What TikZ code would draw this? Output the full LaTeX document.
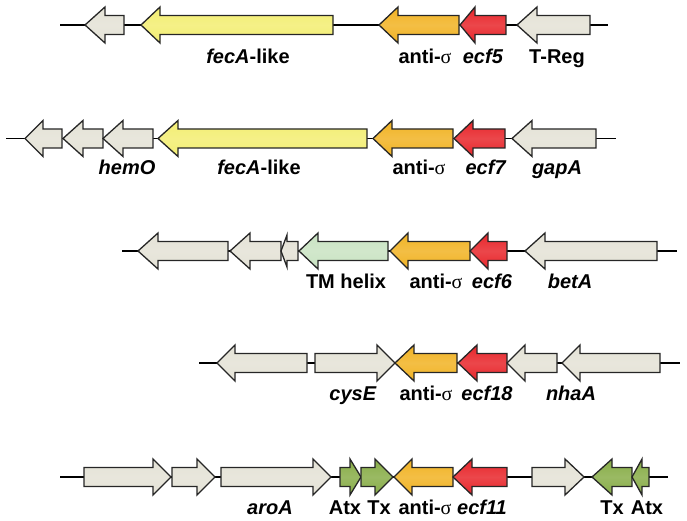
\documentclass[tikz,border=0pt]{standalone}
\usepackage{fontspec}
\setmainfont{Liberation Sans}
\newfontfamily\sigfont{Liberation Serif}
\definecolor{cgray}{HTML}{E4E2D6}
\definecolor{cyel}{HTML}{F3EE72}
\definecolor{corg}{HTML}{F1B324}
\definecolor{cred}{HTML}{E8262B}
\definecolor{cltg}{HTML}{C9E3C2}
\definecolor{cgrn}{HTML}{88AD48}
\tikzset{
  genebox/.style={draw=black!85, line width=1.3pt, line join=miter},
  backbone/.style={draw=black, line width=1.3pt},
  lbl/.style={font=\fontsize{20}{22}\selectfont\bfseries, anchor=base, inner sep=0pt}
}
% #1 head half-height, #2 tip x, #3 head base x, #4 tail x, #5 centre y, #6 colour
\newcommand\gene[6][18]{%
  \path[genebox, top color=#6, bottom color=#6, middle color=#6!85!white]
    (#4,{#5-9.5}) -- (#3,{#5-9.5}) -- (#3,{#5-#1}) -- (#2,#5) -- (#3,{#5+#1})
    -- (#3,{#5+9.5}) -- (#4,{#5+9.5}) -- cycle;}
\newcommand\sig{{\sigfont\mdseries σ}}
\begin{document}
\begin{tikzpicture}[x=1pt,y=-1pt]
\useasboundingbox (0,0) rectangle (687,521);
% ---------- row 1
\coordinate (r1a) at (60,25); \coordinate (r1b) at (608,25);
\draw[backbone] (r1a) -- (r1b);
\gene{85}{105}{124}{25}{cgray}
\gene{141}{160}{333}{25}{cyel}
\gene{379}{398}{459}{25}{corg}
\gene{460}{475}{506}{25}{cred}
\gene{517}{537}{590}{25}{cgray}
\node[lbl] (l1a) at (248,64) {\textit{fecA}-like};
\node[lbl] (l1b) at (425,64) {anti-\sig};
\node[lbl] (l1c) at (483,64) {\textit{ecf5}};
\node[lbl] (l1d) at (557,64) {T-Reg};
% ---------- row 2
\coordinate (r2a) at (6,138.5); \coordinate (r2b) at (616,138.5);
\draw[backbone] (r2a) -- (r2b);
\gene{25}{43}{62}{138.5}{cgray}
\gene{63}{83}{103}{138.5}{cgray}
\gene{103}{123}{153}{138.5}{cgray}
\gene{158}{178}{367}{138.5}{cyel}
\gene{373}{392}{453}{138.5}{corg}
\gene{454}{473}{505}{138.5}{cred}
\gene{512}{532}{596}{138.5}{cgray}
\node[lbl] (l2a) at (127,175) {\textit{hemO}};
\node[lbl] (l2b) at (259,175) {\textit{fecA}-like};
\node[lbl] (l2c) at (419,175) {anti-\sig};
\node[lbl] (l2d) at (486,175) {\textit{ecf7}};
\node[lbl] (l2e) at (557,175) {\textit{gapA}};
% ---------- row 3
\coordinate (r3a) at (122,251); \coordinate (r3b) at (677,251);
\draw[backbone] (r3a) -- (r3b);
\gene{138}{158}{228}{251}{cgray}
\gene{230}{250}{281}{251}{cgray}
\gene[16]{281}{287}{298}{251}{cgray}
\gene{299}{318}{388}{251}{cltg}
\gene{390}{408}{470}{251}{corg}
\gene{470}{488}{507}{251}{cred}
\gene{525}{545}{657}{251}{cgray}
\node[lbl] (l3a) at (346,288) {TM helix};
\node[lbl] (l3b) at (436,288) {anti-\sig};
\node[lbl] (l3c) at (492,288) {\textit{ecf6}};
\node[lbl] (l3d) at (570,288) {\textit{betA}};
% ---------- row 4
\coordinate (r4a) at (199,363); \coordinate (r4b) at (680,363);
\draw[backbone] (r4a) -- (r4b);
\gene{217}{235}{307}{363}{cgray}
\gene{395}{377}{315}{363}{cgray}
\gene{395}{414}{457}{363}{corg}
\gene{458}{477}{507}{363}{cred}
\gene{507}{525}{557}{363}{cgray}
\gene{562}{580}{660}{363}{cgray}
\node[lbl] (l4a) at (353,400) {\textit{cysE}};
\node[lbl] (l4b) at (426,400) {anti-\sig};
\node[lbl] (l4c) at (487,400) {\textit{ecf18}};
\node[lbl] (l4d) at (571,400) {\textit{nhaA}};
% ---------- row 5
\coordinate (r5a) at (60,477); \coordinate (r5b) at (668,477);
\draw[backbone] (r5a) -- (r5b);
\gene{171}{153}{84}{477}{cgray}
\gene{215}{197}{172}{477}{cgray}
\gene{331}{313}{221}{477}{cgray}
\gene{361}{350}{340}{477}{cgrn}
\gene{393}{375}{361}{477}{cgrn}
\gene{394}{412}{453}{477}{corg}
\gene{453}{472}{507}{477}{cred}
\gene{584}{565}{532}{477}{cgray}
\gene{592}{612}{632}{477}{cgrn}
\gene{632}{642}{649}{477}{cgrn}
\node[lbl] (l5a) at (270,514) {\textit{aroA}};
\node[lbl] (l5b) at (345,514) {Atx};
\node[lbl] (l5c) at (379,514) {Tx};
\node[lbl] (l5d) at (425,514) {anti-\sig};
\node[lbl] (l5e) at (482,514) {\textit{ecf11}};
\node[lbl] (l5f) at (612,514) {Tx};
\node[lbl] (l5g) at (647,514) {Atx};
\end{tikzpicture}
\end{document}
